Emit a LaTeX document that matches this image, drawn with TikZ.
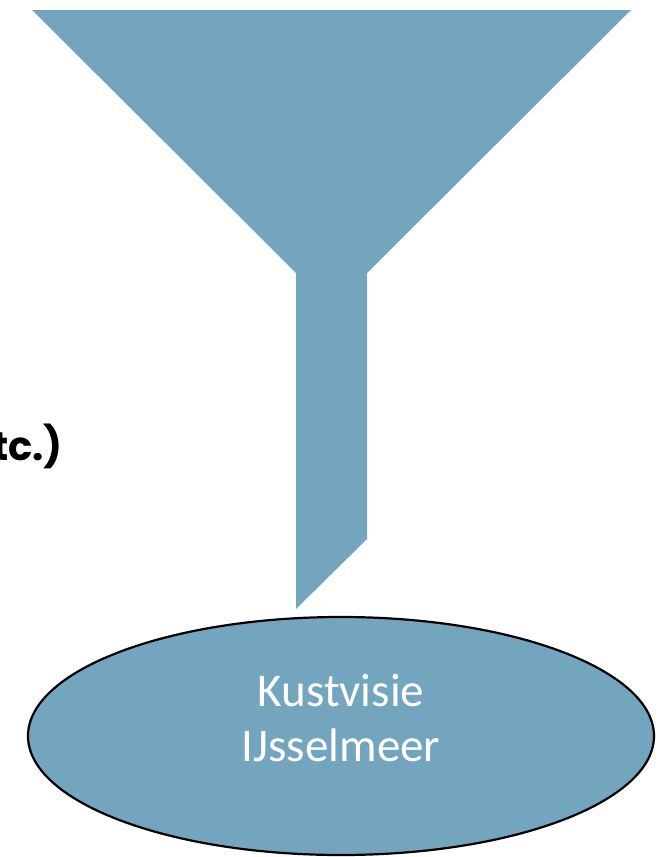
\documentclass[tikz,border=0pt]{standalone}
\usepackage{fontspec}
\setmainfont{Carlito}
\newfontfamily\headfont{Poppins}
\usetikzlibrary{shapes.geometric}
\definecolor{funnelblue}{RGB}{115,166,190}
\tikzset{
  funnel/.style={fill=funnelblue, draw=none},
  target/.style={ellipse, fill=funnelblue, draw=black, line width=2.2pt,
    minimum width=626pt, minimum height=238pt, inner sep=0pt},
  targettext/.style={text=white, align=center, inner sep=0pt,
    font=\fontsize{47}{55}\selectfont},
  sidetext/.style={anchor=east, inner sep=0pt, text=black,
    font=\headfont\bfseries\fontsize{40}{48}\selectfont}
}
\begin{document}
\begin{tikzpicture}[x=1pt,y=-1pt]
  \useasboundingbox (0,0) rectangle (664,857);
  \fill[funnel] (32,10) -- (631,10) -- (367,273) -- (367,539) -- (296,609) -- (296,273) -- cycle;
  \node[target] (kust) at (341,736) {};
  \node[targettext] (kusttext) at ([yshift=18pt]kust.center) {Kustvisie\\IJsselmeer};
  \node[sidetext] (etc) at (63,446) {tc.)};
\end{tikzpicture}
\end{document}
